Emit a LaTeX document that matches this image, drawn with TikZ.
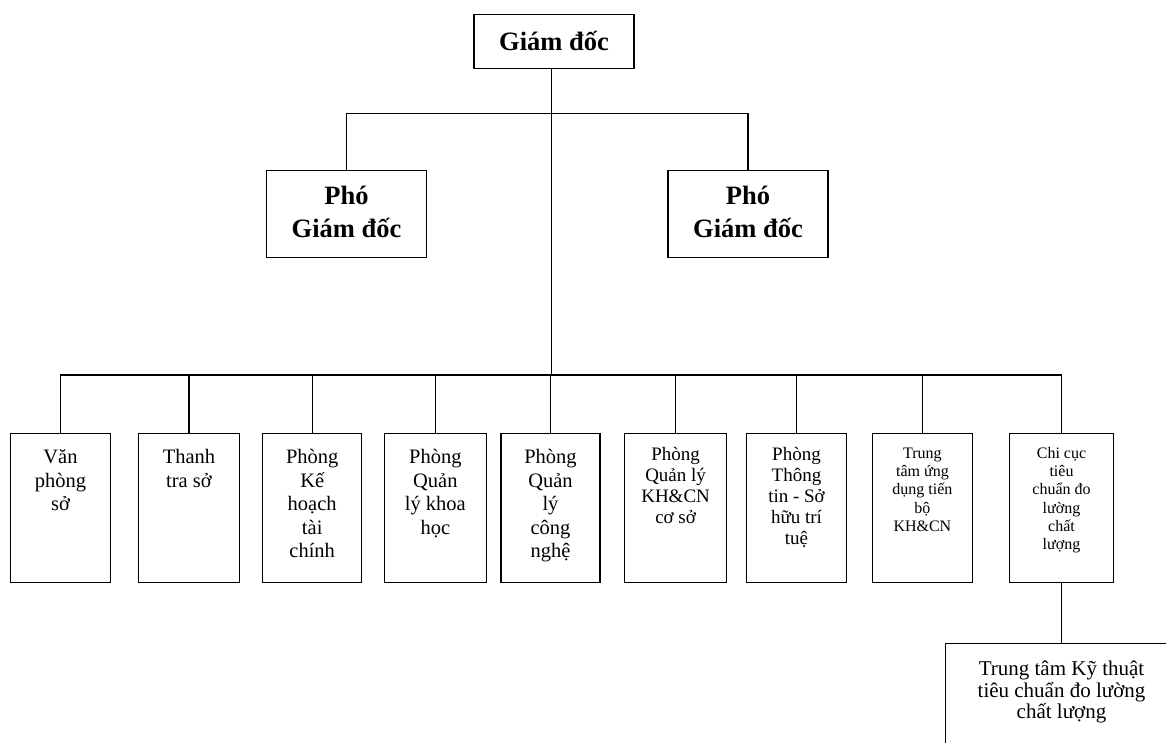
\documentclass[tikz,border=0pt]{standalone}
\usepackage{fontspec}
\setmainfont{Liberation Serif}
\newcommand{\orgtxt}[5]{\parbox[c][#2][t]{#1}{\centering\vspace*{#3}\rule{0pt}{#4}#5\par}}
\tikzset{
  orgbox/.style={draw, line width=1.1pt, inner sep=0pt, anchor=north},
  link/.style={line width=1.1pt},
  big/.style={font=\fontsize{26.5}{33}\selectfont\bfseries},
  unitA/.style={font=\fontsize{20.5}{23.5}\selectfont},
  unitB/.style={font=\fontsize{19}{21}\selectfont},
  unitC/.style={font=\fontsize{16}{18.3}\selectfont},
  unitD/.style={font=\fontsize{21}{21.5}\selectfont},
}
\begin{document}
\begin{tikzpicture}[x=1pt,y=-1pt]
\useasboundingbox (0,0) rectangle (1166,742);
\clip (0,0) rectangle (1166,742);
% top
\node[orgbox,big] (gd) at (554,14) {\orgtxt{160pt}{54.3pt}{16pt}{20pt}{Giám đốc}};
\node[orgbox,big] (p1) at (346.5,170) {\orgtxt{160pt}{86.7pt}{14pt}{20pt}{Phó\\Giám đốc}};
\node[orgbox,big] (p2) at (748,170) {\orgtxt{160pt}{86.7pt}{14pt}{20pt}{Phó\\Giám đốc}};
% units
\node[orgbox,unitA] (b1) at (60.5,432.7) {\orgtxt{100pt}{149pt}{14.6pt}{16pt}{Văn\\phòng\\sở}};
\node[orgbox,unitA] (b2) at (189,432.7) {\orgtxt{100.5pt}{149pt}{14.6pt}{16pt}{Thanh\\tra sở}};
\node[orgbox,unitA] (b3) at (312.2,432.7) {\orgtxt{99pt}{149pt}{14.6pt}{16pt}{Phòng\\Kế\\hoạch\\tài\\chính}};
\node[orgbox,unitA] (b4) at (435.3,432.7) {\orgtxt{101.8pt}{149pt}{14.6pt}{16pt}{Phòng\\Quản\\lý khoa\\học}};
\node[orgbox,unitA] (b5) at (550.5,432.7) {\orgtxt{99pt}{149pt}{14.6pt}{16pt}{Phòng\\Quản\\lý\\công\\nghệ}};
\node[orgbox,unitB] (b6) at (675.6,432.7) {\orgtxt{102.4pt}{149pt}{12.3pt}{15pt}{Phòng\\Quản lý\\KH\&CN\\cơ sở}};
\node[orgbox,unitB] (b7) at (796.5,432.7) {\orgtxt{100pt}{149pt}{12.3pt}{15pt}{Phòng\\Thông\\tin - Sở\\hữu trí\\tuệ}};
\node[orgbox,unitC] (b8) at (922.4,432.7) {\orgtxt{99.6pt}{149pt}{12pt}{13pt}{Trung\\tâm ứng\\dụng tiến\\bộ\\KH\&CN}};
\node[orgbox,unitC] (b9) at (1061.5,432.7) {\orgtxt{104pt}{149pt}{12pt}{13pt}{Chi cục\\tiêu\\chuẩn đo\\lường\\chất\\lượng}};
\node[orgbox,unitD] (tt) at (1061.5,643.3) {\orgtxt{231.4pt}{150pt}{15.7pt}{16pt}{Trung tâm Kỹ thuật\\tiêu chuẩn đo lường\\chất lượng}};
% connectors
\coordinate (j1) at (551.5,113.3);
\coordinate (bus) at (551.5,375);
\draw[link] (gd.south -| j1) -- (bus);
\draw[link] (p1.north) |- (j1) -| (p2.north);
\draw[link] (b1.north) |- (bus) -| (b9.north);
\foreach \b in {b2,b3,b4,b5,b6,b7,b8}{
  \draw[link] (\b.north) -- (\b.north |- bus);
}
\draw[link] (b9.south) -- (tt.north);
\end{tikzpicture}
\end{document}
